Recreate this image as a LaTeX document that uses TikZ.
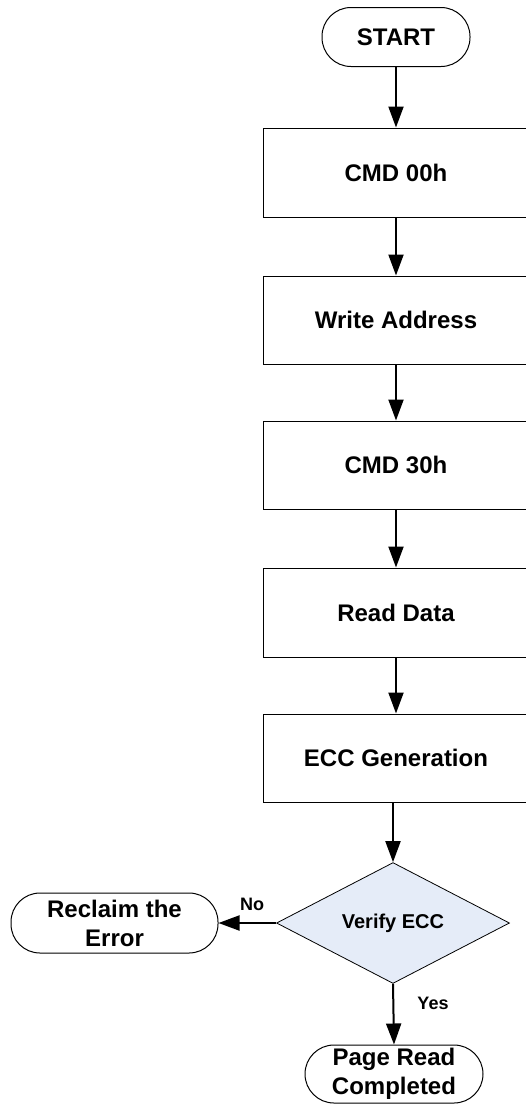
\documentclass[tikz,border=0pt]{standalone}
\usepackage{fontspec}
\setmainfont{Liberation Sans}
\usetikzlibrary{shapes.geometric,arrows.meta}
\definecolor{diafill}{RGB}{229,236,248}
\tikzset{
  base/.style={font=\fontsize{24}{29}\selectfont\bfseries, align=center, draw=black, line width=1pt, inner sep=0pt},
  procbox/.style={base, rectangle, minimum width=266pt, minimum height=88pt},
  term/.style={base, rectangle, rounded corners=29pt},
  decision/.style={base, diamond, fill=diafill, line width=0.8pt, minimum width=233pt, minimum height=114pt, font=\fontsize{20}{24}\selectfont\bfseries},
  flow/.style={line width=2pt, -{Triangle[length=21pt,width=15pt]}},
  lbl/.style={font=\fontsize{18}{20}\selectfont\bfseries, inner sep=0pt}
}
\begin{document}
\begin{tikzpicture}[x=1pt,y=-1pt]
\useasboundingbox (0,0) rectangle (526,1104);
\clip (0,0) rectangle (526,1104);
\node[term, minimum width=148pt, minimum height=59pt] (start) at (396,37) {START};
\node[procbox, minimum height=89pt] (b1) at (396,172.5) {CMD 00h};
\node[procbox] (b2) at (396,320) {Write Address};
\node[procbox] (b3) at (396,465) {CMD 30h};
\node[procbox, minimum height=89pt] (b4) at (396,612.5) {Read Data};
\node[procbox] (b5) at (396,758) {ECC Generation};
\node[decision] (dia) at (393,923) {Verify ECC};
\node[term, minimum width=207pt, minimum height=60pt] (rec) at (114.5,923) {Reclaim the\\Error};
\node[term, minimum width=178pt, minimum height=58pt] (page) at (394,1074) {Page Read\\Completed};
\node[lbl] (no) at (252,904) {No};
\node[lbl] (yes) at (433,1003) {Yes};
\draw[flow] (start.south) -- (b1.north);
\draw[flow] (b1.south) -- (b2.north);
\draw[flow] (b2.south) -- (b3.north);
\draw[flow] (b3.south) -- (b4.north);
\draw[flow] (b4.south) -- (b5.north);
\draw[flow] (dia.north |- b5.south) -- (dia.north);
\draw[flow] (dia.west) -- (rec.east);
\draw[flow] (dia.south) -- (page.north);
\end{tikzpicture}
\end{document}
